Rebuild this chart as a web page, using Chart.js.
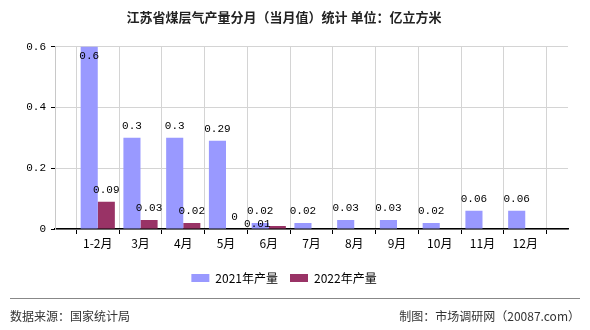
<!DOCTYPE html>
<html>
<head>
<meta charset="utf-8">
<script src="https://cdn.jsdelivr.net/npm/chart.js@4/dist/chart.umd.min.js"></script>
<style>
  html, body { margin: 0; padding: 0; background: #fff; }
  #wrap { width: 590px; height: 330px; }
</style>
</head>
<body>
<div id="wrap"><canvas id="c" width="590" height="330"></canvas></div>
<script>
// data
const months = ["", "1-2月", "3月", "4月", "5月", "6月", "7月", "8月", "9月", "10月", "11月", "12月", ""];
const output2021 = [null, 0.6, 0.3, 0.3, 0.29, 0.02, 0.02, 0.03, 0.03, 0.02, 0.06, 0.06, null];
const output2022 = [null, 0.09, 0.03, 0.02, 0, 0.01, null, null, null, null, null, null, null];
const yTicks = [0, 0.2, 0.4, 0.6];

const numFont = "11px 'Liberation Mono', monospace";
const cjkFont = "'Noto Sans CJK SC', 'Noto Sans', sans-serif";

// value labels above each bar, nudged aside when two would collide
const valueLabels = {
  id: "valueLabels",
  afterDatasetsDraw(chart) {
    const ctx = chart.ctx;
    const area = chart.chartArea;
    const placed = [];
    ctx.save();
    ctx.font = numFont;
    ctx.fillStyle = "#000";
    ctx.textAlign = "center";
    ctx.textBaseline = "middle";
    chart.data.datasets.forEach((ds, i) => {
      const meta = chart.getDatasetMeta(i);
      meta.data.forEach((bar, j) => {
        const v = ds.data[j];
        if (v === null || v === undefined) return;
        const text = String(v);
        const w = ctx.measureText(text).width;
        let x = bar.x;
        let y = Math.max(bar.y - 12, area.top + 9);
        const hit = placed.some(r => Math.abs(r.x - x) < (r.w + w) / 2 && Math.abs(r.y - y) < 10);
        if (hit) { x = bar.x - 20; y = bar.y - 2; }
        placed.push({ x, y, w });
        ctx.fillText(text, x, y);
      });
    });
    ctx.restore();
  }
};

// footer: separator line + source texts
const footer = {
  id: "footer",
  afterDraw(chart) {
    const ctx = chart.ctx;
    ctx.save();
    ctx.strokeStyle = "#888";
    ctx.lineWidth = 1;
    ctx.beginPath();
    ctx.moveTo(10, 298.5);
    ctx.lineTo(580, 298.5);
    ctx.stroke();
    ctx.fillStyle = "#333";
    ctx.font = "12px " + cjkFont;
    ctx.textBaseline = "middle";
    ctx.textAlign = "left";
    ctx.fillText("数据来源：国家统计局", 10, 316);
    ctx.textAlign = "right";
    ctx.fillText("制图：市场调研网（20087.com）", 580, 316);
    ctx.restore();
  }
};

new Chart(document.getElementById("c"), {
  type: "bar",
  data: {
    labels: months,
    datasets: [
      { label: "2021年产量", data: output2021, backgroundColor: "#9999FF" },
      { label: "2022年产量", data: output2022, backgroundColor: "#993366" }
    ]
  },
  options: {
    responsive: false,
    animation: false,
    layout: { padding: { left: 0, right: 22, top: 0, bottom: 36 } },
    datasets: { bar: { barPercentage: 1, categoryPercentage: 0.8 } },
    plugins: {
      title: {
        display: true,
        text: "江苏省煤层气产量分月（当月值）统计 单位：亿立方米",
        color: "#222",
        font: { family: cjkFont, size: 13, weight: "bold" },
        padding: { top: 9, bottom: 22 }
      },
      legend: {
        position: "bottom",
        labels: {
          boxWidth: 18,
          boxHeight: 8,
          color: "#000",
          font: { family: cjkFont, size: 12 },
          padding: 12
        }
      },
      tooltip: { enabled: false }
    },
    scales: {
      x: {
        offset: false,
        grid: { color: "#d4d4d4", tickColor: "#000", tickLength: 5 },
        border: { color: "#000", width: 1.5 },
        ticks: {
          autoSkip: false,
          maxRotation: 0,
          color: "#000",
          padding: 2,
          font: { family: cjkFont, size: 12 }
        },
        afterFit(scale) { scale.height = 31; }
      },
      y: {
        min: 0,
        max: 0.6,
        afterBuildTicks(scale) { scale.ticks = yTicks.map(v => ({ value: v })); },
        grid: { color: "#d4d4d4", tickColor: "#000", tickLength: 4 },
        border: { color: "#c8c8c8" },
        ticks: {
          color: "#000",
          padding: 5,
          font: { family: "'Liberation Mono', monospace", size: 11 },
          callback: v => String(v)
        },
        afterFit(scale) { scale.width = 55; }
      }
    }
  },
  plugins: [valueLabels, footer]
});
</script>
</body>
</html>
